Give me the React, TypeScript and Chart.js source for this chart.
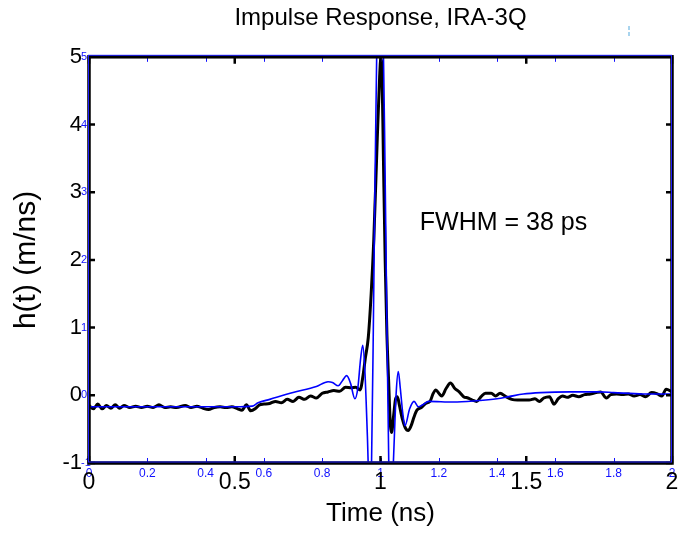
import React, { useEffect, useRef } from "react";
import { Chart, registerables } from "chart.js";

Chart.register(...registerables);

const FONT = "'Liberation Sans', Arial, Helvetica, sans-serif";

// Measured response (thick black)
const blackTime = [
  0.0, 0.015, 0.03, 0.045, 0.06, 0.075, 0.09, 0.105, 0.12, 0.14, 0.16, 0.18, 0.2, 0.22, 0.24, 0.26, 0.28, 0.3,
  0.33, 0.35, 0.37, 0.39, 0.41, 0.43, 0.45, 0.47, 0.49, 0.51, 0.525, 0.54, 0.555, 0.57, 0.585, 0.6, 0.62, 0.64,
  0.66, 0.68, 0.7, 0.72, 0.74, 0.76, 0.78, 0.8, 0.82, 0.84, 0.86, 0.88, 0.9, 0.915, 0.93, 0.941, 0.948, 0.958,
  0.968, 0.977, 0.989, 0.997, 1.001, 1.005, 1.01, 1.016, 1.022, 1.028, 1.034, 1.038, 1.045, 1.052, 1.058, 1.065,
  1.075, 1.085, 1.095, 1.105, 1.115, 1.125, 1.14, 1.155, 1.17, 1.18, 1.19, 1.2, 1.21, 1.225, 1.24, 1.255, 1.27,
  1.285, 1.3, 1.315, 1.33, 1.345, 1.36, 1.38, 1.395, 1.41, 1.43, 1.45, 1.47, 1.49, 1.51, 1.53, 1.545, 1.56, 1.58,
  1.595, 1.61, 1.625, 1.64, 1.66, 1.68, 1.7, 1.72, 1.74, 1.755, 1.775, 1.79, 1.81, 1.83, 1.85, 1.87, 1.89, 1.91,
  1.93, 1.95, 1.965, 1.98, 2.0,
];
const blackH = [
  -0.15, -0.2, -0.13, -0.2, -0.15, -0.19, -0.14, -0.19, -0.15, -0.18, -0.16, -0.18, -0.16, -0.18, -0.14, -0.18, -0.17, -0.18,
  -0.15, -0.18, -0.16, -0.19, -0.21, -0.18, -0.17, -0.18, -0.17, -0.2, -0.22, -0.14, -0.23, -0.2, -0.14, -0.13, -0.12, -0.09,
  -0.11, -0.06, -0.09, -0.03, -0.06, -0.01, -0.04, 0.03, 0.05, 0.07, 0.06, 0.12, 0.11, 0.12, 0.08, 0.32, 0.55, 0.85,
  1.5, 2.3, 3.8, 4.7, 4.97, 4.8, 3.5, 2.0, 0.9, 0.2, -0.45, -0.55, -0.3, -0.05, -0.02, -0.15,
  -0.35, -0.48, -0.52, -0.45, -0.32, -0.22, -0.18, -0.12, -0.09, 0.02, 0.08, 0.03, -0.01, 0.1, 0.18, 0.1, 0.05,
  -0.02, -0.04, -0.07, -0.09, -0.02, 0.03, 0.03, -0.01, 0.03, -0.02, -0.06, -0.07, -0.07, -0.07, -0.05, -0.09, -0.04, -0.02,
  -0.13, -0.05, -0.01, -0.03, 0.0, -0.02, 0.01, 0.02, 0.04, 0.05, -0.04, 0.01, 0.02, 0.01, 0.02, -0.01, 0.01, -0.02,
  0.04, 0.02, -0.01, 0.09, 0.05,
];

// Model response (thin blue)
const blueTime = [
  0.0, 0.1, 0.2, 0.3, 0.4, 0.5, 0.56, 0.58, 0.62, 0.7, 0.78, 0.82, 0.835, 0.855, 0.87, 0.884, 0.897, 0.912, 0.922,
  0.932, 0.939, 0.946, 0.955, 0.963, 0.968, 0.978, 0.99, 0.998, 1.005, 1.018, 1.03, 1.037, 1.045, 1.054, 1.061,
  1.068, 1.076, 1.084, 1.1, 1.115, 1.13, 1.145, 1.165, 1.25, 1.33, 1.4, 1.44, 1.49, 1.55, 1.65, 1.75, 1.8, 1.9, 2.0,
];
const blueH = [
  -0.17, -0.17, -0.17, -0.17, -0.17, -0.17, -0.16, -0.11, -0.06, 0.04, 0.13, 0.2, 0.19, 0.14, 0.22, 0.29, 0.18, -0.05, 0.1,
  0.55, 0.74, 0.4, -0.6, -1.6, -1.4, 2.0, 6.0, 6.8, 6.5, 2.5, -1.5, -1.8, -0.9, 0.05, 0.35,
  0.1, -0.25, -0.45, -0.2, -0.09, -0.17, -0.14, -0.09, -0.1, -0.08, -0.05, -0.02, 0.02, 0.04, 0.05, 0.05, 0.04, 0.02, 0.02,
];

const xMajorTicks = [0, 0.5, 1, 1.5, 2];
const xMinorTicks = [0, 0.2, 0.4, 0.6, 0.8, 1, 1.2, 1.4, 1.6, 1.8, 2];
const yTicks = [-1, 0, 1, 2, 3, 4, 5];

const titleText = "Impulse Response, IRA-3Q";
const xTitle = "Time (ns)";
const yTitle = "h(t) (m/ns)";
const noteText = "FWHM = 38 ps";
const noteAt = { x: 1.135, y: 2.44 };

const fmt = (v: number) => String(Math.round(v * 10) / 10);

const framePlugin = {
  id: "matlabFrame",
  afterDatasetsDraw(chart: any) {
    const { ctx, chartArea: a, scales } = chart;
    const x = scales.x;
    const y = scales.y;
    ctx.save();
    // blue minor ticks (top & bottom)
    ctx.strokeStyle = "#1010ff";
    ctx.lineWidth = 1;
    ctx.beginPath();
    for (const v of xMinorTicks) {
      const px = Math.round(x.getPixelForValue(v)) + 0.5;
      ctx.moveTo(px, a.top);
      ctx.lineTo(px, a.top + 5);
      ctx.moveTo(px, a.bottom);
      ctx.lineTo(px, a.bottom - 5);
    }
    ctx.stroke();
    // black major ticks
    ctx.strokeStyle = "#000";
    ctx.lineWidth = 2.5;
    ctx.beginPath();
    for (const v of xMajorTicks) {
      const px = x.getPixelForValue(v);
      ctx.moveTo(px, a.top);
      ctx.lineTo(px, a.top + 7);
      ctx.moveTo(px, a.bottom);
      ctx.lineTo(px, a.bottom - 7);
    }
    for (const v of yTicks) {
      const py = y.getPixelForValue(v);
      ctx.moveTo(a.left, py);
      ctx.lineTo(a.left + 6, py);
      ctx.moveTo(a.right, py);
      ctx.lineTo(a.right - 6, py);
    }
    ctx.stroke();
    // frame
    ctx.lineWidth = 3.5;
    ctx.strokeStyle = "#000";
    ctx.strokeRect(a.left, a.top, a.right - a.left, a.bottom - a.top);
    ctx.lineWidth = 1;
    ctx.strokeStyle = "#2020ff";
    ctx.strokeRect(a.left - 0.5, a.top - 1.5, a.right - a.left, a.bottom - a.top + 0.5);
    // annotation
    ctx.fillStyle = "#000";
    ctx.font = `25px ${FONT}`;
    ctx.textAlign = "left";
    ctx.textBaseline = "alphabetic";
    ctx.fillText(noteText, x.getPixelForValue(noteAt.x), y.getPixelForValue(noteAt.y));
    // faint scan artifact near the title
    ctx.strokeStyle = "#a8d4ee";
    ctx.lineWidth = 2;
    ctx.setLineDash([4, 2]);
    ctx.beginPath();
    ctx.moveTo(629, 26);
    ctx.lineTo(629, 38);
    ctx.stroke();
    ctx.restore();
  },
};

export default function App() {
  const ref = useRef<HTMLCanvasElement | null>(null);
  useEffect(() => {
    if (!ref.current) return;
    Chart.defaults.font.family = FONT;
    const chart = new Chart(ref.current, {
      type: "line",
      data: {
        datasets: [
          {
            label: "model",
            data: blueTime.map((t, i) => ({ x: t, y: blueH[i] })),
            borderColor: "#0000ff",
            borderWidth: 1.6,
            pointRadius: 0,
            cubicInterpolationMode: "monotone",
            xAxisID: "x",
            yAxisID: "y",
          },
          {
            label: "measured",
            data: blackTime.map((t, i) => ({ x: t, y: blackH[i] })),
            borderColor: "#000000",
            borderWidth: 3,
            pointRadius: 0,
            cubicInterpolationMode: "monotone",
            xAxisID: "x",
            yAxisID: "y",
          },
        ],
      },
      options: {
        animation: false,
        responsive: false,
        events: [],
        layout: { padding: { left: 0, right: 14, top: 0, bottom: 0 } },
        plugins: {
          legend: { display: false },
          tooltip: { enabled: false },
          title: {
            display: true,
            text: titleText,
            color: "#000",
            fullSize: false,
            font: { size: 24, weight: "normal" },
            padding: { top: 4, bottom: 24 },
          },
        },
        scales: {
          x2: {
            type: "linear",
            position: "bottom",
            weight: 0,
            min: 0,
            max: 2,
            afterBuildTicks: (s: any) => {
              s.ticks = xMinorTicks.map((v) => ({ value: v }));
            },
            afterFit: (s: any) => {
              s.height = 0;
            },
            ticks: {
              color: "#1010ff",
              font: { size: 12 },
              mirror: true,
              padding: -18,
              autoSkip: false,
              maxRotation: 0,
              callback: (v: any) => fmt(Number(v)),
            },
            grid: { display: false, drawTicks: false },
            border: { display: false },
          },
          x: {
            type: "linear",
            position: "bottom",
            weight: 1,
            min: 0,
            max: 2,
            afterBuildTicks: (s: any) => {
              s.ticks = xMajorTicks.map((v) => ({ value: v }));
            },
            afterFit: (s: any) => {
              s.height = 72;
            },
            ticks: { color: "#000", font: { size: 23 }, padding: 6, autoSkip: false, maxRotation: 0, callback: (v: any) => fmt(Number(v)) },
            grid: { display: false, drawTicks: false },
            border: { display: false },
            title: { display: true, text: xTitle, color: "#000", font: { size: 26 }, padding: { top: 0, bottom: 6 } },
          },
          y2: {
            type: "linear",
            position: "left",
            weight: 0,
            min: -1,
            max: 5,
            afterBuildTicks: (s: any) => {
              s.ticks = yTicks.map((v) => ({ value: v }));
            },
            afterFit: (s: any) => {
              s.width = 0;
            },
            ticks: {
              color: "#1010ff",
              font: { size: 11 },
              mirror: true,
              padding: -8,
              autoSkip: false,
              callback: (v: any) => fmt(Number(v)),
            },
            grid: { display: false, drawTicks: false },
            border: { display: false },
          },
          y: {
            type: "linear",
            position: "left",
            weight: 1,
            min: -1,
            max: 5,
            afterBuildTicks: (s: any) => {
              s.ticks = yTicks.map((v) => ({ value: v }));
            },
            afterFit: (s: any) => {
              s.width = 89;
            },
            ticks: { color: "#000", font: { size: 22 }, padding: 7, autoSkip: false, callback: (v: any) => fmt(Number(v)) },
            grid: { display: false, drawTicks: false },
            border: { display: false },
            title: { display: true, text: yTitle, color: "#000", font: { size: 30 }, padding: { top: 9, bottom: 0 } },
          },
        },
      },
      plugins: [framePlugin],
    } as any);
    return () => chart.destroy();
  }, []);
  return (
    <canvas
      ref={ref}
      width={686}
      height={535}
      style={{ position: "fixed", left: 0, top: 0, width: 686, height: 535, background: "#fff" }}
    />
  );
}
